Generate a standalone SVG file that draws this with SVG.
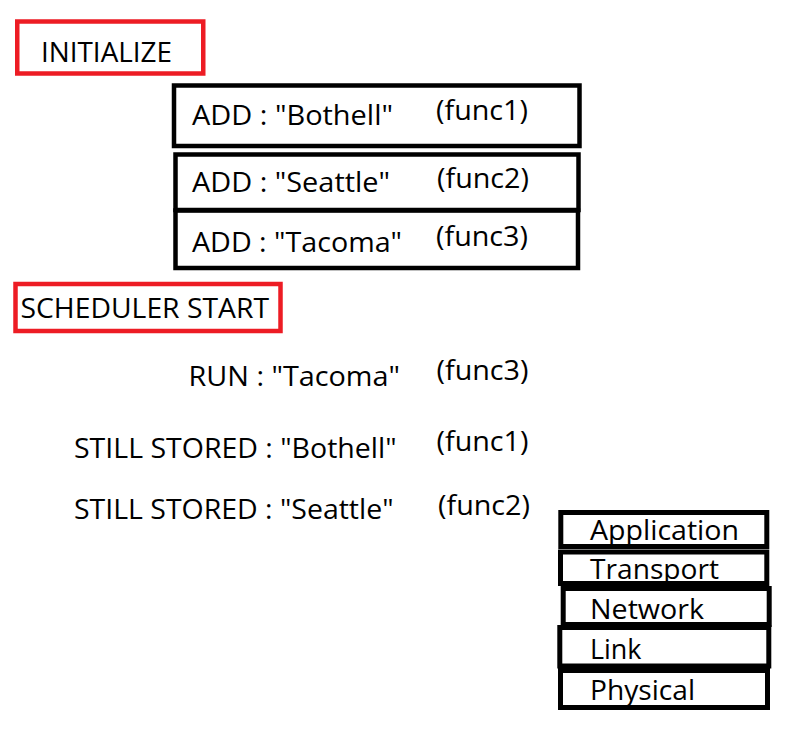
<svg xmlns="http://www.w3.org/2000/svg" width="794" height="752" viewBox="0 0 794 752">
  <style>
    .red { fill: none; stroke: #ED1C24; stroke-width: 4.5; }
    .box { fill: none; stroke: #000; stroke-width: 4.5; }
    .layer { fill: none; stroke: #000; stroke-width: 5; }
    text { font-family: "Open Sans", "Noto Sans", sans-serif; font-size: 28px; fill: #000; }
    .lt { font-size: 27px; }
  </style>
  <rect width="794" height="752" fill="#fff"/>

  <!-- phase headers -->
  <g id="initialize">
    <rect class="red" x="17.25" y="21.5" width="186" height="52"/>
    <text x="41" y="62" textLength="131" lengthAdjust="spacingAndGlyphs">INITIALIZE</text>
  </g>

  <!-- registered tasks -->
  <g id="add-bothell">
    <rect class="box" x="174" y="85.5" width="405.5" height="60.5"/>
    <text x="192" y="124.5" textLength="201" lengthAdjust="spacingAndGlyphs">ADD : "Bothell"</text>
    <text x="436" y="120" textLength="92" lengthAdjust="spacingAndGlyphs">(func1)</text>
  </g>
  <g id="add-seattle">
    <rect class="box" x="175.5" y="154.5" width="403" height="55.5"/>
    <text x="192" y="191.5" textLength="198" lengthAdjust="spacingAndGlyphs">ADD : "Seattle"</text>
    <text x="437" y="188" textLength="92" lengthAdjust="spacingAndGlyphs">(func2)</text>
  </g>
  <g id="add-tacoma">
    <rect class="box" x="175.5" y="210.5" width="402.5" height="57.5"/>
    <text x="192" y="252" textLength="210" lengthAdjust="spacingAndGlyphs">ADD : "Tacoma"</text>
    <text x="436" y="246" textLength="92" lengthAdjust="spacingAndGlyphs">(func3)</text>
  </g>

  <g id="scheduler-start">
    <rect class="red" x="15.5" y="284" width="265" height="47"/>
    <text x="20.5" y="317.5" textLength="248.5" lengthAdjust="spacingAndGlyphs">SCHEDULER START</text>
  </g>

  <!-- scheduler state -->
  <g id="run-tacoma">
    <text x="188.5" y="385.5" textLength="211.5" lengthAdjust="spacingAndGlyphs">RUN : "Tacoma"</text>
    <text x="436.5" y="380" textLength="92" lengthAdjust="spacingAndGlyphs">(func3)</text>
  </g>
  <g id="stored-bothell">
    <text x="74" y="457.5" textLength="322.5" lengthAdjust="spacingAndGlyphs">STILL STORED : "Bothell"</text>
    <text x="436.5" y="451" textLength="92" lengthAdjust="spacingAndGlyphs">(func1)</text>
  </g>
  <g id="stored-seattle">
    <text x="74" y="518.5" textLength="319.5" lengthAdjust="spacingAndGlyphs">STILL STORED : "Seattle"</text>
    <text x="438" y="515" textLength="92" lengthAdjust="spacingAndGlyphs">(func2)</text>
  </g>

  <!-- protocol stack -->
  <g id="layer-application">
    <rect class="layer" x="560.8" y="512.5" width="206" height="34"/>
    <text class="lt" x="590" y="539.5" textLength="149" lengthAdjust="spacingAndGlyphs">Application</text>
  </g>
  <g id="layer-transport">
    <rect class="layer" x="560.5" y="552" width="206.3" height="31.5"/>
    <text class="lt" x="590" y="578.5" textLength="129" lengthAdjust="spacingAndGlyphs">Transport</text>
  </g>
  <g id="layer-network">
    <rect class="layer" x="563.2" y="588.5" width="206" height="36"/>
    <text class="lt" x="590" y="618.5" textLength="114" lengthAdjust="spacingAndGlyphs">Network</text>
  </g>
  <g id="layer-link">
    <rect class="layer" x="559.8" y="627.5" width="209" height="38.5"/>
    <text class="lt" x="590" y="659" textLength="51.5" lengthAdjust="spacingAndGlyphs">Link</text>
  </g>
  <g id="layer-physical">
    <rect class="layer" x="560.5" y="670.5" width="207" height="37"/>
    <text class="lt" x="590" y="699.5" textLength="105" lengthAdjust="spacingAndGlyphs">Physical</text>
  </g>

  <g id="connectors"/>
</svg>
